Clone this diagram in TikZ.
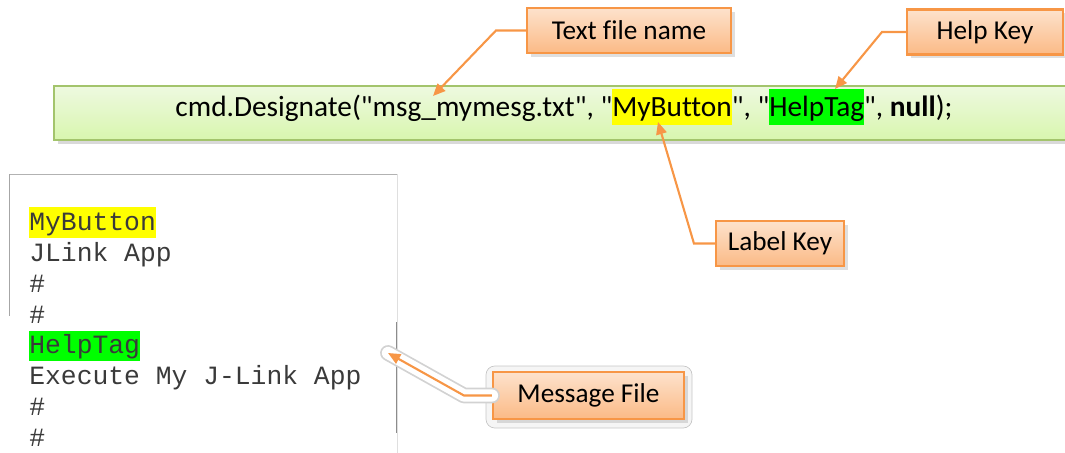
\documentclass[tikz,border=0pt]{standalone}
\usepackage{fontspec}
\newfontfamily\calib[Ligatures=NoCommon]{Carlito}
\newfontfamily\monof{Liberation Mono}
\usetikzlibrary{positioning, arrows.meta, shadows}

\definecolor{orline}{HTML}{F79646}
\definecolor{ortop}{HTML}{FDE2CC}
\definecolor{orbot}{HTML}{FBBA86}
\definecolor{grline}{HTML}{A3C46C}
\definecolor{grtop}{HTML}{EEF9E0}
\definecolor{grbot}{HTML}{D8F6AE}
\definecolor{hlgreen}{HTML}{00FF00}
\definecolor{hlyellow}{HTML}{FFFF00}
\definecolor{ftext}{HTML}{3A3A3A}

\newcommand{\hlbox}[2]{{\setlength{\fboxsep}{0pt}\colorbox{#1}{\rule[-0.3em]{0pt}{1.22em}#2}}}

\tikzset{
  callout/.style={draw=orline, line width=1.2pt, top color=ortop, bottom color=orbot,
    font=\calib\fontsize{15.5}{18}\selectfont, minimum height=0.9cm, inner sep=2pt,
    drop shadow={shadow xshift=2pt, shadow yshift=-2pt, opacity=0.25}},
  link/.style={->, draw=orline, line width=1.2pt},
  fline/.style={font=\monof\fontsize{15}{18}\selectfont, text=ftext, inner sep=0pt,
    text height=0.46cm, text depth=0.144cm}
}

\begin{document}
\begin{tikzpicture}[x=0.02cm, y=-0.02cm, >={Triangle[length=7pt,width=6pt]}]
	\useasboundingbox (0,0) rectangle (1065,453);

	% code line
	\fill[top color=grtop, bottom color=grbot,
	  drop shadow={shadow xshift=2pt, shadow yshift=-2.5pt, opacity=0.3}] (54,86) rectangle (1065,140);
	\draw[grline, line width=1pt] (1065,86) -- (54,86) -- (54,140) -- (1065,140);
	\node[anchor=base, font=\calib\fontsize{16.7}{20}\selectfont] (n0) at (564,116)
	  {cmd.Designate("msg\_mymesg.txt", "\hlbox{hlyellow}{MyButton}", "\hlbox{hlgreen}{HelpTag}", \textbf{null});};

	% message file
	\draw[gray!60] (9,174) -- (397,174);
	\draw[gray!70] (9,174) -- (9,316);
	\draw[gray!25] (397,174) -- (397,453);
	\draw[gray!90] (396,322) -- (396,433);
	\node[fline, fill=hlyellow, anchor=north west] (t0) at (29,207) {MyButton};
	\node[fline, below right=0pt and 0pt of t0.south west] (t1) {JLink App};
	\node[fline, below right=0pt and 0pt of t1.south west] (t2) {\#};
	\node[fline, below right=0pt and 0pt of t2.south west] (t3) {\#};
	\node[fline, fill=hlgreen, below right=0pt and 0pt of t3.south west] (t4) {HelpTag};
	\node[fline, below right=0pt and 0pt of t4.south west] (t5) {Execute My J-Link App};
	\node[fline, below right=0pt and 0pt of t5.south west] (t6) {\#};
	\node[fline, below right=0pt and 0pt of t6.south west] (t7) {\#};

	% callouts
	\node[callout, minimum width=4.08cm] (b0) at (629,30.5) {Text file name};
	\node[callout, minimum width=3.12cm] (b1) at (985,32) {Help Key};
	\node[callout, minimum width=2.56cm] (b2) at (780,243.5) {Label Key};
	\fill[gray!8, draw=gray!45, rounded corners=5pt] (486,366) rectangle (692,428);
	\node[callout, minimum width=3.82cm, minimum height=0.94cm] (b3) at (588.5,395.5) {Message File};

	\coordinate (p0) at (433,96);
	\coordinate (p1) at (835,89);
	\coordinate (p2) at (658,122);
	\coordinate (p3) at (388,353);

	\draw[link] (b0.west) -- ++(-30,0) -- (p0);
	\draw[link] (b1.west) -- ++(-24,0) -- (p1);
	\draw[link] (b2.west) -- ++(-21,0) -- (p2);
	\draw[gray!35, line width=9pt, line cap=round, line join=round] (b3.west) -- ++(-28,0) -- (p3);
	\draw[white, line width=7pt, line cap=round, line join=round] (b3.west) -- ++(-28,0) -- (p3);
	\draw[link] (b3.west) -- ++(-28,0) -- (p3);
\end{tikzpicture}
\end{document}
